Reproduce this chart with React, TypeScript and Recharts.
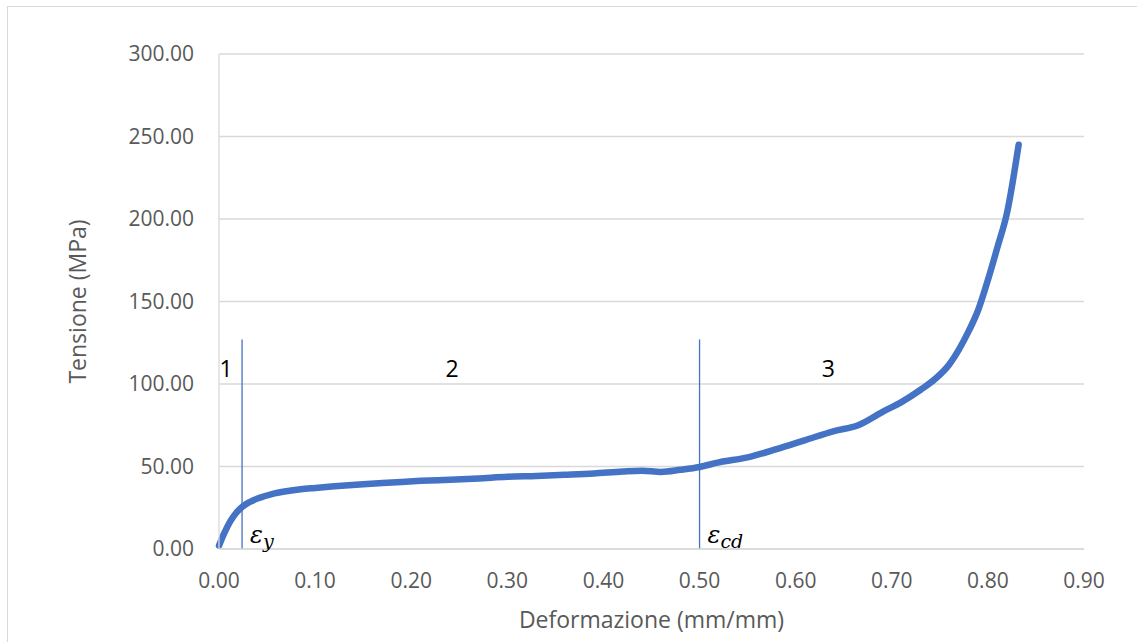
import React from 'react';
import {
  LineChart,
  Line,
  XAxis,
  YAxis,
  CartesianGrid,
  ReferenceLine,
  ReferenceDot,
  Label,
} from 'recharts';

// strain (mm/mm) and stress (MPa)
const strain = [
  0, 0.005, 0.012, 0.018, 0.024, 0.032, 0.042, 0.055, 0.07, 0.085, 0.1, 0.12, 0.15, 0.18, 0.21,
  0.24, 0.27, 0.3, 0.33, 0.36, 0.39, 0.42, 0.44, 0.46, 0.48, 0.5, 0.52, 0.55, 0.58, 0.61, 0.64,
  0.665, 0.69, 0.71, 0.73, 0.745, 0.76, 0.77, 0.78, 0.79, 0.8, 0.81, 0.82, 0.832,
];
const stress = [
  2, 9, 17, 22, 25.5, 28.5, 31, 33.3, 35, 36.2, 37, 38, 39.3, 40.3, 41.3, 42, 42.8, 43.8, 44.3,
  45, 45.8, 47, 47.5, 46.7, 48, 49.7, 52.5, 55.5, 60.5, 66, 71.5, 75, 83, 89, 96.5, 103, 112,
  121, 132, 145, 163, 183, 204, 245,
];

const xTicks = [0, 0.1, 0.2, 0.3, 0.4, 0.5, 0.6, 0.7, 0.8, 0.9];
const yTicks = [0, 50, 100, 150, 200, 250, 300];

// limits between zones: yield strain and densification strain
const epsY = 0.024;
const epsCd = 0.5;
const markerTop = 127;

const zoneLabels = ['1', '2', '3'];
const zoneX = [0.0073, 0.2425, 0.634];
const zoneY = 109;

const data = strain.map((x, i) => ({ x, y: stress[i] }));

const axisColor = '#595959';
const gridColor = '#d9d9d9';
const lineColor = '#4472C4';
const font = '"Open Sans", sans-serif';

const EpsLabel = ({ viewBox, sub }: any) => {
  if (!viewBox) return null;
  return (
    <text
      x={viewBox.x + 8}
      y={viewBox.y - 6}
      fontFamily='"DejaVu Serif", serif'
      fontStyle="italic"
      fontSize={24}
      fill="#000"
    >
      ε
      <tspan dy={5} fontSize={19}>
        {sub}
      </tspan>
    </text>
  );
};

const YTitle = ({ viewBox }: any) => {
  if (!viewBox) return null;
  const cx = 77;
  const cy = viewBox.y + viewBox.height / 2;
  return (
    <text
      x={cx}
      y={cy}
      transform={`rotate(-90, ${cx}, ${cy})`}
      textAnchor="middle"
      dominantBaseline="central"
      fontFamily={font}
      fontSize={23}
      fill={axisColor}
    >
      Tensione (MPa)
    </text>
  );
};

export default function App() {
  return (
    <div
      style={{
        position: 'absolute',
        left: 0,
        top: 0,
        width: 1137,
        height: 642,
        background: '#fff',
        overflow: 'hidden',
      }}
    >
      <div
        style={{
          position: 'absolute',
          left: 7,
          top: 6,
          width: 1200,
          height: 700,
          border: `1px solid ${gridColor}`,
        }}
      />
      <div style={{ position: 'absolute', left: 0, top: 0 }}>
        <LineChart
          width={1137}
          height={642}
          data={data}
          margin={{ top: 54, right: 53, bottom: 0, left: 0 }}
        >
          <CartesianGrid vertical={false} stroke={gridColor} strokeWidth={1.3} />
          <XAxis
            type="number"
            dataKey="x"
            domain={[0, 0.9]}
            ticks={xTicks}
            tickFormatter={(v: number) => v.toFixed(2)}
            axisLine={{ stroke: gridColor, strokeWidth: 1.3 }}
            tickLine={false}
            tickSize={0}
            tickMargin={24}
            height={93}
            tick={{ fill: axisColor, fontSize: 21, fontFamily: font }}
          >
            <Label
              value="Deformazione (mm/mm)"
              position="insideBottom"
              offset={14}
              fill={axisColor}
              fontSize={23}
              fontFamily={font}
            />
          </XAxis>
          <YAxis
            type="number"
            domain={[0, 300]}
            ticks={yTicks}
            tickFormatter={(v: number) => v.toFixed(2)}
            axisLine={{ stroke: gridColor, strokeWidth: 1.3 }}
            tickLine={false}
            tickSize={0}
            tickMargin={25}
            width={219}
            tick={{ fill: axisColor, fontSize: 21, fontFamily: font }}
          >
            <Label content={<YTitle />} />
          </YAxis>
          <ReferenceLine
            segment={[
              { x: epsY, y: 0 },
              { x: epsY, y: markerTop },
            ]}
            stroke={lineColor}
            strokeWidth={1.3}
          />
          <ReferenceLine
            segment={[
              { x: epsCd, y: 0 },
              { x: epsCd, y: markerTop },
            ]}
            stroke={lineColor}
            strokeWidth={1.3}
          />
          <Line
            type="monotone"
            dataKey="y"
            stroke={lineColor}
            strokeWidth={6.5}
            strokeLinecap="round"
            strokeLinejoin="round"
            dot={false}
            isAnimationActive={false}
          />
          {zoneLabels.map((t, i) => (
            <ReferenceDot
              key={t}
              x={zoneX[i]}
              y={zoneY}
              r={0}
              stroke="none"
              fill="none"
              label={{ value: t, position: 'center', fill: '#000', fontSize: 23, fontFamily: font }}
            />
          ))}
          <ReferenceDot
            x={epsY}
            y={0}
            r={0}
            stroke="none"
            fill="none"
            label={<EpsLabel sub="y" />}
          />
          <ReferenceDot
            x={epsCd}
            y={0}
            r={0}
            stroke="none"
            fill="none"
            label={<EpsLabel sub="cd" />}
          />
        </LineChart>
      </div>
    </div>
  );
}
